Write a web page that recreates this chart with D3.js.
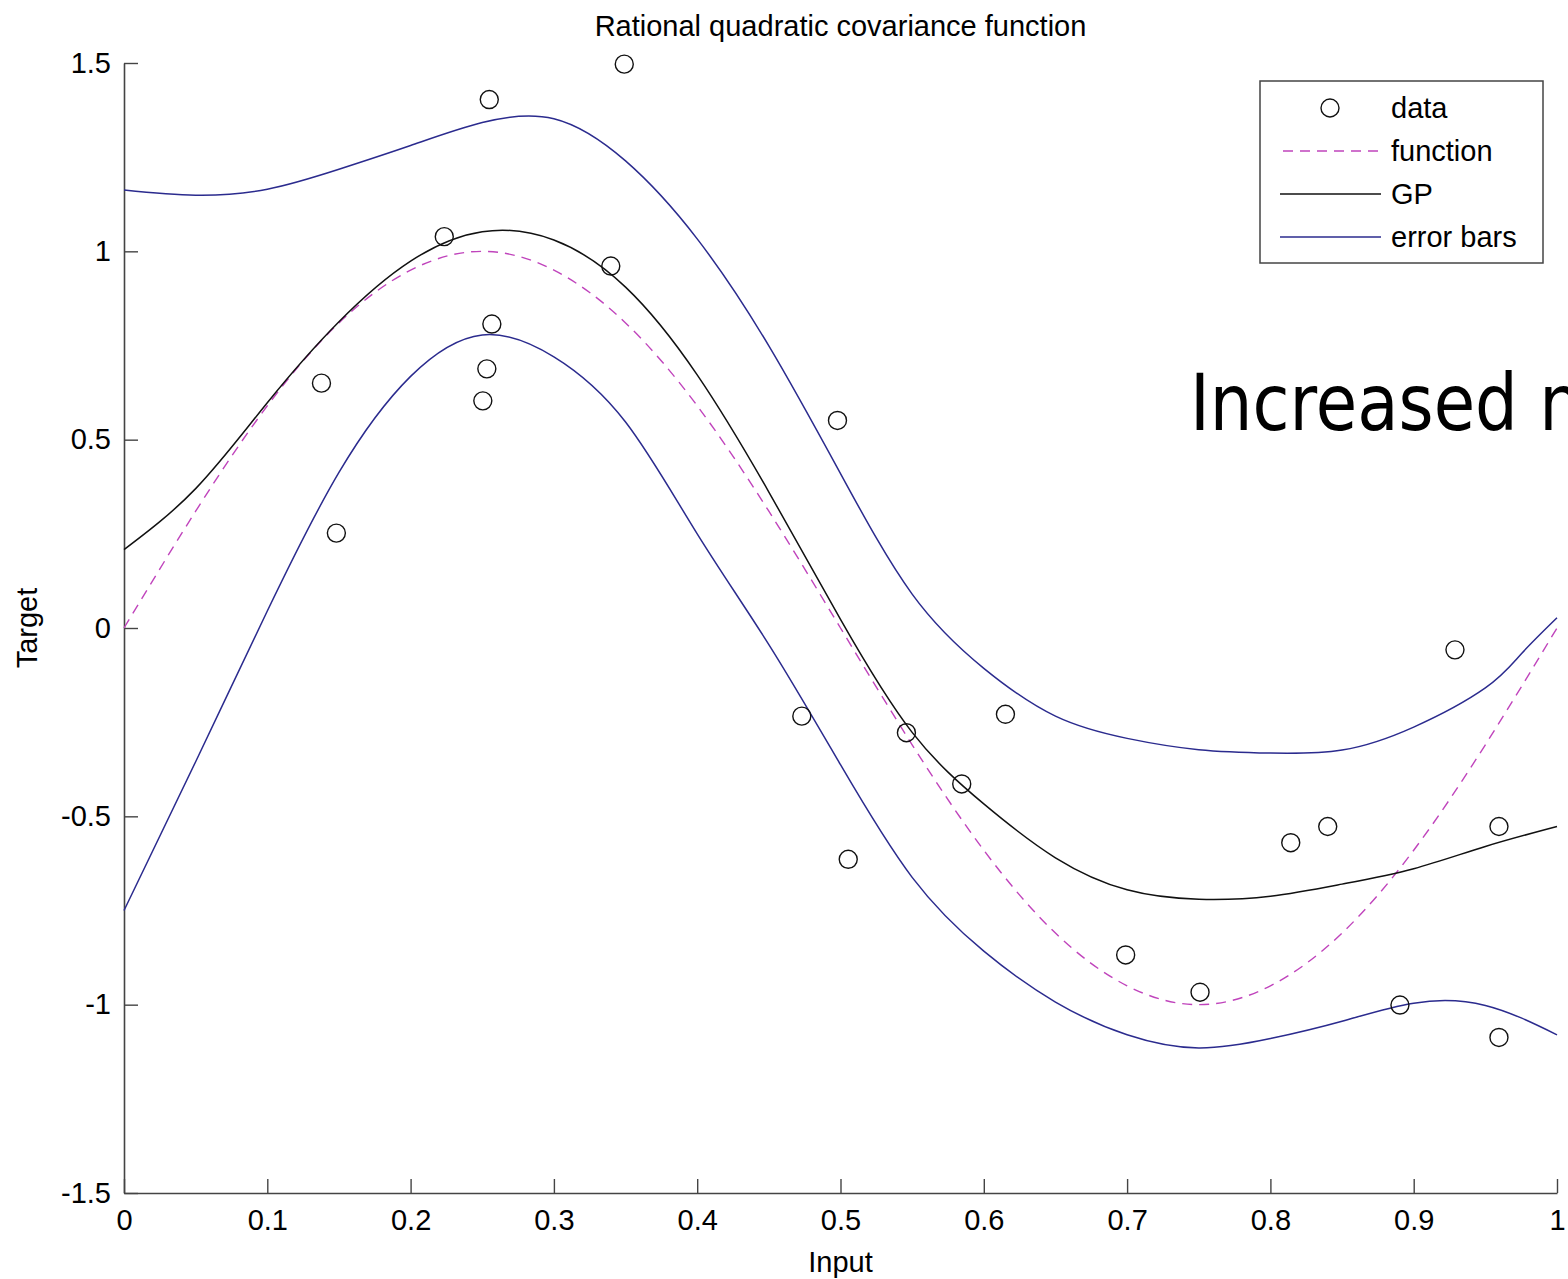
<!DOCTYPE html>
<html>
<head>
<meta charset="utf-8">
<script src="https://cdn.jsdelivr.net/npm/d3@7"></script>
<style>
  html, body { margin: 0; padding: 0; background: #fff; }
  svg { display: block; }
</style>
</head>
<body>
<script>
// ---- data ----
const gridX = [0, 0.05, 0.1, 0.15, 0.2, 0.25, 0.3, 0.35, 0.4, 0.45, 0.5, 0.55, 0.6, 0.65, 0.7, 0.75, 0.8, 0.85, 0.9, 0.95, 1];
const functionY = [0, 0.31, 0.59, 0.81, 0.95, 1.0, 0.95, 0.81, 0.59, 0.31, 0, -0.31, -0.59, -0.81, -0.95, -1.0, -0.95, -0.81, -0.59, -0.31, 0];
const gpMeanY   = [0.208, 0.37, 0.598, 0.813, 0.974, 1.052, 1.03, 0.905, 0.672, 0.361, 0.023, -0.277, -0.467, -0.610, -0.695, -0.720, -0.712, -0.680, -0.639, -0.580, -0.527];
const upperX = [0, 0.05, 0.1, 0.15, 0.2, 0.25, 0.3, 0.35, 0.4, 0.45, 0.5, 0.55, 0.6, 0.65, 0.7, 0.75, 0.8, 0.85, 0.9, 0.95, 0.975, 1];
const upperY = [1.163, 1.149, 1.165, 1.218, 1.281, 1.342, 1.352, 1.24, 1.033, 0.749, 0.41, 0.09, -0.107, -0.234, -0.293, -0.323, -0.332, -0.324, -0.263, -0.159, -0.069, 0.027];
const lowerY = [-0.750, -0.355, 0.045, 0.413, 0.668, 0.778, 0.72, 0.547, 0.25, -0.044, -0.363, -0.662, -0.858, -0.993, -1.080, -1.115, -1.090, -1.044, -0.996, -1.002, -1.080];
const dataX = [0.1378, 0.1482, 0.2235, 0.2549, 0.2504, 0.2532, 0.2567, 0.3397, 0.3491, 0.4979, 0.4730, 0.5054, 0.5460, 0.5846, 0.6151, 0.6990, 0.7509, 0.8142, 0.8400, 0.8904, 0.9288, 0.9595, 0.9595];
const dataY = [0.650, 0.252, 1.039, 1.403, 0.603, 0.688, 0.807, 0.961, 1.497, 0.551, -0.234, -0.614, -0.278, -0.414, -0.229, -0.868, -0.967, -0.570, -0.527, -1.001, -0.058, -0.527, -1.087];
const xTicks = [0, 0.1, 0.2, 0.3, 0.4, 0.5, 0.6, 0.7, 0.8, 0.9, 1];
const xTickLabels = ["0", "0.1", "0.2", "0.3", "0.4", "0.5", "0.6", "0.7", "0.8", "0.9", "1"];
const yTicks = [-1.5, -1, -0.5, 0, 0.5, 1, 1.5];
const yTickLabels = ["-1.5", "-1", "-0.5", "0", "0.5", "1", "1.5"];
const legendLabels = ["data", "function", "GP", "error bars"];
const titleText = "Rational quadratic covariance function";
const xLabel = "Input";
const yLabel = "Target";
const overlayText = "Increased n";

// ---- layout ----
const W = 1568, H = 1279;
const pLeft = 124, pRight = 1557, pTop = 63, pBottom = 1193;
const font = "'Liberation Sans', Arial, sans-serif";
const blue = "#2b2b8e";
const magenta = "#c044bc";

const svg = d3.select("body").append("svg").attr("width", W).attr("height", H);
svg.append("rect").attr("width", W).attr("height", H).attr("fill", "#fff");

const x = d3.scaleLinear().domain([0, 1]).range([pLeft, pRight]);
const y = d3.scaleLinear().domain([-1.5, 1.5]).range([pBottom, pTop]);

// axes
const xAxis = d3.axisBottom(x).tickValues(xTicks).tickFormat((d, i) => xTickLabels[i])
  .tickSizeInner(-14).tickSizeOuter(0).tickPadding(16);
const yAxis = d3.axisLeft(y).tickValues(yTicks).tickFormat((d, i) => yTickLabels[i])
  .tickSizeInner(-14).tickSizeOuter(0).tickPadding(13);

const gx = svg.append("g").attr("transform", `translate(0,${pBottom})`).call(xAxis);
const gy = svg.append("g").attr("transform", `translate(${pLeft},0)`).call(yAxis);
[gx, gy].forEach(g => {
  g.select(".domain").attr("stroke", "#444").attr("stroke-width", 1.6);
  g.selectAll(".tick line").attr("stroke", "#444").attr("stroke-width", 1.4);
  g.selectAll(".tick text").attr("fill", "#000").style("font-family", font).style("font-size", "29px");
});

// lines
const lineXY = (xs, ys) => xs.map((v, i) => [v, ys[i]]);
const line = d3.line().x(d => x(d[0])).y(d => y(d[1])).curve(d3.curveNatural);

svg.append("path").datum(lineXY(upperX, upperY)).attr("d", line)
  .attr("fill", "none").attr("stroke", blue).attr("stroke-width", 1.5);
svg.append("path").datum(lineXY(gridX, lowerY)).attr("d", line)
  .attr("fill", "none").attr("stroke", blue).attr("stroke-width", 1.5);
svg.append("path").datum(lineXY(gridX, functionY)).attr("d", line)
  .attr("fill", "none").attr("stroke", magenta).attr("stroke-width", 1.4).attr("stroke-dasharray", "10,7");
svg.append("path").datum(lineXY(gridX, gpMeanY)).attr("d", line)
  .attr("fill", "none").attr("stroke", "#111").attr("stroke-width", 1.5);

// data points
svg.append("g").selectAll("circle").data(lineXY(dataX, dataY)).join("circle")
  .attr("cx", d => x(d[0])).attr("cy", d => y(d[1])).attr("r", 9)
  .attr("fill", "none").attr("stroke", "#111").attr("stroke-width", 1.4);

// title and labels
svg.append("text").attr("x", (pLeft + pRight) / 2).attr("y", 36).attr("text-anchor", "middle")
  .style("font-family", font).style("font-size", "29px").text(titleText);
svg.append("text").attr("x", (pLeft + pRight) / 2).attr("y", 1272).attr("text-anchor", "middle")
  .style("font-family", font).style("font-size", "29px").text(xLabel);
svg.append("text").attr("transform", `translate(37,${y(0)}) rotate(-90)`).attr("text-anchor", "middle")
  .style("font-family", font).style("font-size", "29px").text(yLabel);

// legend
const lg = svg.append("g");
lg.append("rect").attr("x", 1260).attr("y", 81).attr("width", 283).attr("height", 182)
  .attr("fill", "#fff").attr("stroke", "#444").attr("stroke-width", 1.5);
const rowY = [108, 151, 194, 237];
lg.append("circle").attr("cx", 1330).attr("cy", rowY[0]).attr("r", 9)
  .attr("fill", "none").attr("stroke", "#111").attr("stroke-width", 1.4);
lg.append("line").attr("x1", 1283).attr("x2", 1381).attr("y1", rowY[1]).attr("y2", rowY[1])
  .attr("stroke", magenta).attr("stroke-width", 1.4).attr("stroke-dasharray", "10,7");
lg.append("line").attr("x1", 1280).attr("x2", 1381).attr("y1", rowY[2]).attr("y2", rowY[2])
  .attr("stroke", "#111").attr("stroke-width", 1.5);
lg.append("line").attr("x1", 1280).attr("x2", 1381).attr("y1", rowY[3]).attr("y2", rowY[3])
  .attr("stroke", blue).attr("stroke-width", 1.5);
lg.selectAll("text.leg").data(legendLabels).join("text").attr("class", "leg")
  .attr("x", 1391).attr("y", (d, i) => rowY[i]).attr("dy", "0.36em")
  .style("font-family", font).style("font-size", "29px").text(d => d);

// overlay slide text (cut by the right edge, as in the reference)
svg.append("text").attr("x", 1190).attr("y", 430)
  .attr("textLength", 392).attr("lengthAdjust", "spacingAndGlyphs")
  .style("font-family", "'DejaVu Sans', Verdana, sans-serif").style("font-size", "78px")
  .attr("fill", "#000").text(overlayText);
</script>
</body>
</html>
